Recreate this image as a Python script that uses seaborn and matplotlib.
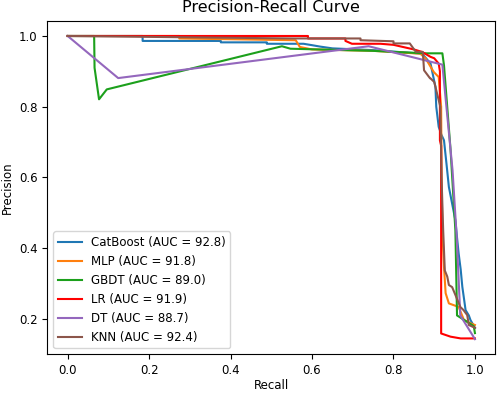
import numpy as np
import pandas as pd
import matplotlib
matplotlib.use('Agg')
import matplotlib.pyplot as plt
import seaborn as sns

plt.rcParams['font.size'] = 8.5

# 各模型的 PR 曲线点
models = ['CatBoost', 'MLP', 'GBDT', 'LR', 'DT', 'KNN']
auc_values = [92.8, 91.8, 89.0, 91.9, 88.7, 92.4]
colors = ['#1f77b4', '#ff7f0e', '#1ca01c', '#ff0000', '#9467bd', '#8c564b']

catboost_recall = [0, 0.184, 0.184, 0.376, 0.376, 0.489, 0.489, 0.579, 0.60, 0.62, 0.65, 0.75,
                   0.87, 0.88, 0.891, 0.895, 0.903, 0.905, 0.911, 0.918, 0.924, 0.93, 0.936,
                   0.945, 0.952, 0.956, 0.960, 0.965, 0.969, 0.974, 0.977, 0.985, 0.989, 1.0]
catboost_precision = [1, 1, 0.986, 0.986, 0.982, 0.982, 0.978, 0.978, 0.974, 0.970, 0.965, 0.960,
                      0.950, 0.937, 0.922, 0.90, 0.856, 0.80, 0.743, 0.72, 0.705, 0.64, 0.573,
                      0.52, 0.479, 0.43, 0.385, 0.34, 0.291, 0.25, 0.225, 0.21, 0.197, 0.175]

mlp_recall = [0, 0.274, 0.274, 0.56, 0.57, 0.60, 0.75, 0.866, 0.879, 0.899, 0.911, 0.917,
              0.918, 0.92, 0.924, 0.928, 0.936, 0.96, 0.973, 0.989, 1.0]
mlp_precision = [1, 1, 0.993, 0.988, 0.969, 0.962, 0.958, 0.95, 0.936, 0.898, 0.884, 0.80,
                 0.60, 0.45, 0.347, 0.273, 0.244, 0.234, 0.197, 0.188, 0.183]

gbdt_recall = [0, 0.065, 0.066, 0.077, 0.096, 0.526, 0.547, 0.75, 0.80, 0.88, 0.92, 0.924,
               0.94, 0.952, 0.956, 0.997, 1.0]
gbdt_precision = [1, 1, 0.91, 0.821, 0.849, 0.971, 0.964, 0.958, 0.955, 0.951, 0.951, 0.917,
                  0.68, 0.45, 0.21, 0.18, 0.16]

lr_recall = [0, 0.59, 0.59, 0.682, 0.682, 0.698, 0.768, 0.80, 0.85, 0.87, 0.891, 0.90, 0.911,
             0.914, 0.914, 0.917, 0.917, 0.94, 0.965, 1.0]
lr_precision = [1, 1, 0.993, 0.993, 0.986, 0.978, 0.978, 0.975, 0.962, 0.955, 0.941, 0.937,
                0.922, 0.90, 0.705, 0.69, 0.159, 0.150, 0.145, 0.145]

dt_recall = [0, 0.124, 0.739, 0.92, 0.945, 0.955, 0.964, 1.0]
dt_precision = [1, 0.881, 0.971, 0.919, 0.62, 0.435, 0.21, 0.143]

knn_recall = [0, 0.555, 0.56, 0.719, 0.719, 0.80, 0.80, 0.84, 0.855, 0.872, 0.875, 0.89, 0.891,
              0.90, 0.915, 0.918, 0.922, 0.926, 0.932, 0.936, 0.944, 0.952, 0.964, 0.972,
              0.981, 0.985, 1.0]
knn_precision = [1, 0.993, 0.993, 0.993, 0.988, 0.985, 0.979, 0.979, 0.955, 0.955, 0.903, 0.88,
                 0.88, 0.87, 0.80, 0.60, 0.45, 0.337, 0.32, 0.296, 0.29, 0.268, 0.234, 0.225,
                 0.211, 0.183, 0.175]

recalls = [catboost_recall, mlp_recall, gbdt_recall, lr_recall, dt_recall, knn_recall]
precisions = [catboost_precision, mlp_precision, gbdt_precision, lr_precision, dt_precision, knn_precision]

# 拼成长表
frames = []
for name, auc, r, p in zip(models, auc_values, recalls, precisions):
    frames.append(pd.DataFrame({'Recall': r, 'Precision': p,
                                'label': f'{name} (AUC = {auc:.1f})'}))
df = pd.concat(frames, ignore_index=True)
labels = [f'{m} (AUC = {a:.1f})' for m, a in zip(models, auc_values)]

fig = plt.figure(figsize=(4.98, 3.93), dpi=100)
ax = fig.add_axes([0.095, 0.0985, 0.8996, 0.8485])
sns.lineplot(data=df, x='Recall', y='Precision', hue='label', hue_order=labels,
             palette=dict(zip(labels, colors)), estimator=None, sort=False,
             linewidth=1.5, ax=ax)

ax.set_title('Precision-Recall Curve', fontsize=11.5)
ax.set_xlabel('Recall', labelpad=1.5)
ax.set_ylabel('Precision')
ax.legend(loc='lower left')

plt.savefig('out.png', dpi=100)
